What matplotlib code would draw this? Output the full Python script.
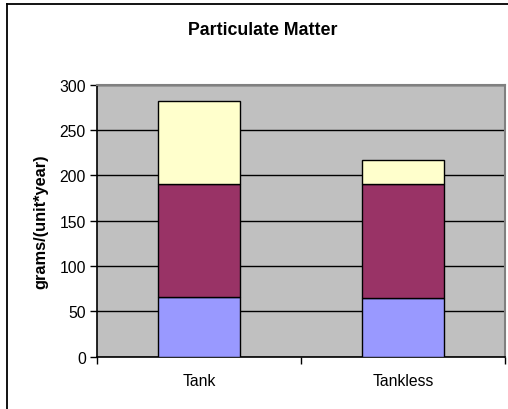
import matplotlib
matplotlib.use("Agg")
import matplotlib.pyplot as plt
from matplotlib.lines import Line2D

plt.rcParams['font.family'] = ['Liberation Sans', 'DejaVu Sans']

# data
categories = ['Tank', 'Tankless']
bottom_part = [66, 65]
middle_part = [124.5, 126]
top_part = [92, 26]
colors = ['#9999FF', '#993366', '#FFFFCC']

fig = plt.figure(figsize=(5.08, 4.10), dpi=100)
ax = fig.add_axes([0.191, 0.1276, 0.803, 0.6634])
ax.set_facecolor('#C0C0C0')

x = range(len(categories))
base = [0] * len(categories)
for vals, c in zip([bottom_part, middle_part, top_part], colors):
    ax.bar(x, vals, width=0.4, bottom=base, color=c, edgecolor='black', linewidth=1, zorder=3)
    base = [b + v for b, v in zip(base, vals)]

ax.set_xlim(-0.5, 1.5)
ax.set_ylim(0, 300)
ax.set_yticks(range(0, 301, 50))
ax.yaxis.grid(True, color='black', linewidth=1)
ax.set_axisbelow(True)

ax.set_xticks([-0.5, 0.5, 1.5])
ax.set_xticklabels([])
ax.set_xticks(list(x), minor=True)
ax.set_xticklabels(categories, minor=True)
ax.tick_params(axis='x', which='minor', length=0, pad=12, labelsize=11.3)
ax.tick_params(axis='x', which='major', length=5, width=1, direction='out')
ax.tick_params(axis='y', length=5, width=1, labelsize=11.3, pad=3)

for s in ['left', 'bottom']:
    ax.spines[s].set_color('black')
    ax.spines[s].set_linewidth(1.2)
for s in ['top', 'right']:
    ax.spines[s].set_color('#808080')
    ax.spines[s].set_linewidth(1.5)

ax.set_ylabel('grams/(unit*year)', fontsize=11.8, fontweight='bold', labelpad=8)
fig.text(0.518, 0.925, 'Particulate Matter', ha='center', va='center',
         fontsize=12.8, fontweight='bold')

# chart frame (cropped on the right and bottom)
fig.add_artist(Line2D([0.0138, 0.0138], [0, 0.988], transform=fig.transFigure, color='black', lw=1.3))
fig.add_artist(Line2D([0.0138, 1.0], [0.988, 0.988], transform=fig.transFigure, color='black', lw=1.3))

fig.savefig('out.png', dpi=100)
